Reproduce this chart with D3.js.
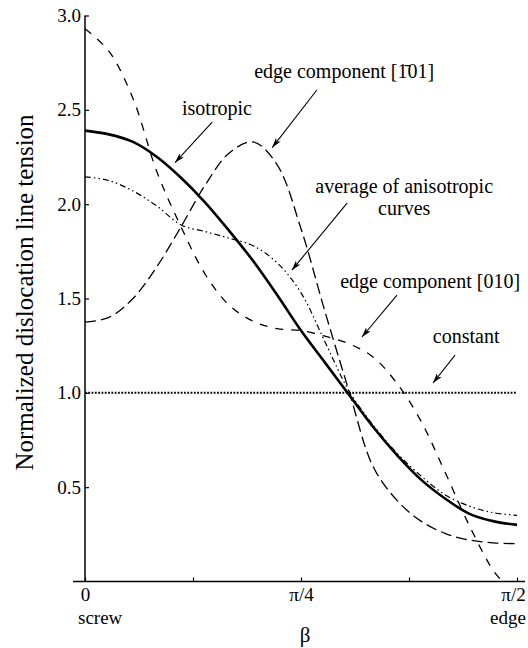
<!DOCTYPE html>
<html>
<head>
<meta charset="utf-8">
<script src="https://cdn.jsdelivr.net/npm/d3@7"></script>
<style>
  body { margin: 0; background: #fff; }
  svg text { font-family: "Liberation Serif", "Times New Roman", serif; fill: #000; }
</style>
</head>
<body>
<div id="my_chart"></div>
<script>
// beta in degrees (0 = screw, 90 = edge)
var beta    = [0,5,10,15,20,25,30,35,40,45,50,55,60,65,70,75,80,85,90];
var beta010 = [0,5,10,15,20,25,30,35,40,45,50,55,60,65,70,75,80,85,87];
var betaConst = [0,90];

var isotropic = [2.39,2.37,2.33,2.25,2.14,2.01,1.86,1.70,1.52,1.33,1.16,0.99,0.82,0.67,0.54,0.44,0.36,0.32,0.30];
var edge101   = [1.375,1.40,1.50,1.67,1.88,2.10,2.27,2.33,2.21,1.87,1.43,1.01,0.61,0.43,0.32,0.255,0.22,0.205,0.20];
var edge010   = [2.93,2.81,2.56,2.17,1.88,1.63,1.465,1.38,1.34,1.33,1.30,1.26,1.19,1.05,0.85,0.58,0.30,0.06,0.0];
var average   = [2.145,2.125,2.07,1.99,1.89,1.855,1.82,1.78,1.69,1.53,1.27,1.01,0.83,0.68,0.56,0.46,0.40,0.365,0.35];
var constant  = [1.0,1.0];

var yTicks = [0.5,1.0,1.5,2.0,2.5,3.0];
var xTicks = [0,22.5,45,67.5,90];
var xTickLabels = {0: "0", 45: "\u03c0/4", 90: "\u03c0/2"};

// set the dimensions and margins of the graph
var margin = {top: 15.5, right: 11, bottom: 66.5, left: 85},
    width = 528 - margin.left - margin.right,
    height = 648 - margin.top - margin.bottom;

var svg = d3.select("#my_chart")
  .append("svg")
    .attr("width", 528)
    .attr("height", 648)
  .append("g")
    .attr("transform", "translate(" + margin.left + "," + margin.top + ")");

var x = d3.scaleLinear().domain([0, 90]).range([0, width]);
var y = d3.scaleLinear().domain([0, 3]).range([height, 0]);

// arrow head
svg.append("defs").append("marker")
    .attr("id", "arrow")
    .attr("viewBox", "0 0 10 6")
    .attr("refX", 10).attr("refY", 3)
    .attr("markerUnits", "userSpaceOnUse")
    .attr("markerWidth", 10).attr("markerHeight", 6)
    .attr("orient", "auto")
  .append("path")
    .attr("d", "M0,0 L10,3 L0,6 L2.5,3 Z")
    .attr("fill", "#000");

// X axis
var xAxis = svg.append("g")
  .attr("transform", "translate(0," + height + ")")
  .call(d3.axisBottom(x).tickValues(xTicks).tickSize(-4).tickPadding(6)
        .tickFormat(function(d){ return xTickLabels[d] || ""; }));
xAxis.select(".domain").remove();
xAxis.selectAll("text").style("font-size", "19px");
xAxis.selectAll(".tick line").attr("stroke-width", 1.2);
xAxis.selectAll(".tick").filter(function(d){ return d == 90; }).select("text").attr("dx", -4);
svg.append("line")
  .attr("x1", x(0) - 12).attr("x2", x(90) + 8)
  .attr("y1", height).attr("y2", height)
  .attr("stroke", "#000").attr("stroke-width", 1.5);

// Y axis
var yAxis = svg.append("g")
  .call(d3.axisLeft(y).tickValues(yTicks).tickSize(-4).tickPadding(4).tickFormat(d3.format(".1f")));
yAxis.select(".domain").remove();
yAxis.selectAll("text").style("font-size", "19px");
yAxis.selectAll(".tick line").attr("stroke-width", 1.2);
svg.append("line")
  .attr("x1", 0).attr("x2", 0)
  .attr("y1", y(0)).attr("y2", y(3))
  .attr("stroke", "#000").attr("stroke-width", 1.5);

// axis labels
svg.append("text").attr("x", x(0) - 7).attr("y", height + 42)
  .style("font-size", "19px").text("screw");
svg.append("text").attr("x", x(90) - 27).attr("y", height + 42)
  .style("font-size", "19px").text("edge");
svg.append("text").attr("x", x(45) + 4).attr("y", height + 60)
  .attr("text-anchor", "middle").style("font-size", "21px").text("\u03b2");
svg.append("text")
  .attr("transform", "translate(" + (33 - margin.left) + "," + (y(1.5) - 6) + ") rotate(-90)")
  .attr("text-anchor", "middle").style("font-size", "25px")
  .text("Normalized dislocation line tension");

// Lines
function drawLine(xs, ys, width, dash) {
  var pts = xs.map(function(b, i){ return [b, ys[i]]; });
  svg.append("path")
    .datum(pts)
    .attr("fill", "none")
    .attr("stroke", "#000")
    .attr("stroke-width", width)
    .attr("stroke-dasharray", dash)
    .attr("d", d3.line()
      .x(function(d){ return x(d[0]); })
      .y(function(d){ return y(d[1]); })
      .curve(d3.curveCatmullRom.alpha(0.5)));
}
drawLine(betaConst, constant, 2, "1.8,1.5");
drawLine(beta, average, 1.2, "6,3,1.5,3,1.5,3");
drawLine(beta010, edge010, 1.3, "8,8");
drawLine(beta, edge101, 1.3, "11,5");
drawLine(beta, isotropic, 2.6, null);

// annotations (positions in data units)
var notes = [
  {lines: ["isotropic"], tx: 27.5, ty: 2.47, ax: 26.5, ay: 2.435, bx: 18.75, by: 2.22},
  {lines: ["edge component [\u0031\u0304" + "01]"], tx: 54.0, ty: 2.67, ax: 48.3, ay: 2.605, bx: 39.0, by: 2.30},
  {lines: ["average of anisotropic", "curves"], tx: 66.5, ty: 2.06, ax: 54.6, ay: 2.006, bx: 43.1, by: 1.65},
  {lines: ["edge component [010]"], tx: 71.9, ty: 1.556, ax: 65.0, ay: 1.518, bx: 57.7, by: 1.296},
  {lines: ["constant"], tx: 79.4, ty: 1.264, ax: 77.1, ay: 1.20, bx: 72.5, by: 1.052}
];

notes.forEach(function(n){
  var t = svg.append("text")
    .attr("x", x(n.tx)).attr("y", y(n.ty))
    .attr("text-anchor", "middle")
    .style("font-size", "20px");
  n.lines.forEach(function(l, i){
    t.append("tspan").attr("x", x(n.tx)).attr("dy", i == 0 ? 0 : 22).text(l);
  });
  svg.append("line")
    .attr("x1", x(n.ax)).attr("y1", y(n.ay))
    .attr("x2", x(n.bx)).attr("y2", y(n.by))
    .attr("stroke", "#000").attr("stroke-width", 1.1)
    .attr("marker-end", "url(#arrow)");
});
</script>
</body>
</html>
